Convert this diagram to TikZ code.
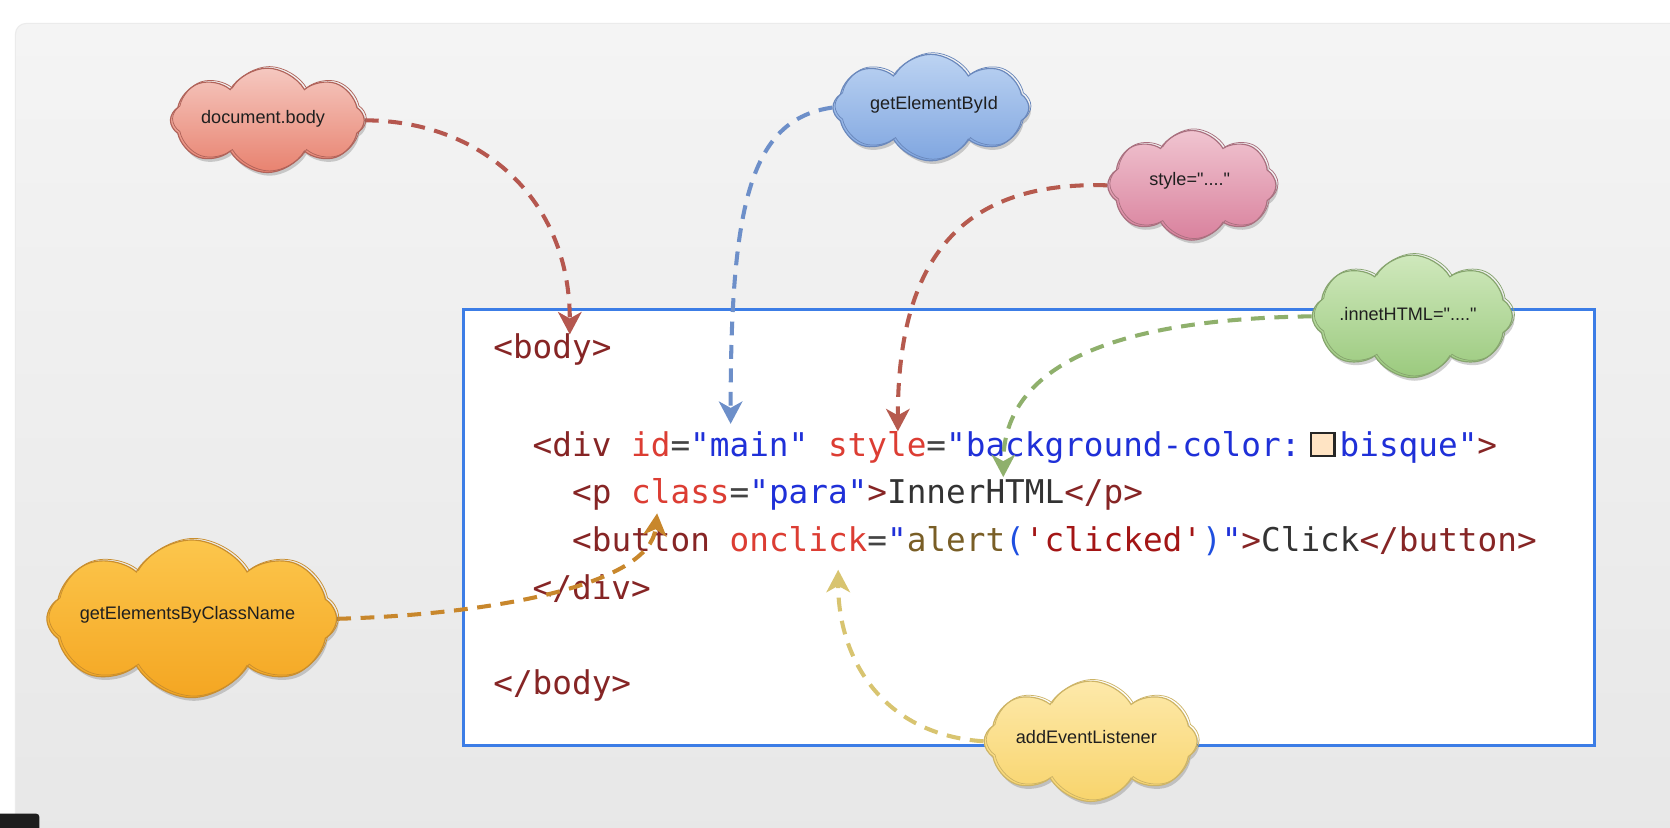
\documentclass[tikz,border=0pt]{standalone}
\usepackage{fontspec}
\setmainfont{Liberation Sans}[Ligatures=TeXOff]
\setmonofont{DejaVu Sans Mono}
\usetikzlibrary{shapes.symbols,shadows,arrows.meta}
\definecolor{bgTop}{HTML}{F4F4F4}
\definecolor{bgBot}{HTML}{E7E7E7}
\definecolor{darkC}{HTML}{1E1E1E}
\definecolor{boxC}{HTML}{3C7DE6}
\definecolor{tagC}{HTML}{862525}
\definecolor{attrC}{HTML}{DC3D33}
\definecolor{strC}{HTML}{1F30D8}
\definecolor{eqC}{HTML}{444444}
\definecolor{txtC}{HTML}{333333}
\definecolor{fnC}{HTML}{795E26}
\definecolor{parC}{HTML}{1F4FE0}
\definecolor{sqC}{HTML}{A31515}
\definecolor{bisqueC}{HTML}{FFE4C4}
\definecolor{arBody}{HTML}{B5574F}
\definecolor{arBlue}{HTML}{6D8FC9}
\definecolor{arStyle}{HTML}{B65A4E}
\definecolor{arGreen}{HTML}{8FB06C}
\definecolor{arOrange}{HTML}{C8872C}
\definecolor{arKhaki}{HTML}{D8C470}
% cloud colours
\definecolor{rTop}{HTML}{F5C8C0}\definecolor{rBot}{HTML}{E8826F}\definecolor{rLine}{HTML}{B0635A}
\definecolor{bTop}{HTML}{BCD3F2}\definecolor{bBot}{HTML}{80A6E0}\definecolor{bLine}{HTML}{6A88BC}
\definecolor{pTop}{HTML}{F0C4D0}\definecolor{pBot}{HTML}{D9819D}\definecolor{pLine}{HTML}{A9707F}
\definecolor{gTop}{HTML}{CFE8BC}\definecolor{gBot}{HTML}{9BCA7E}\definecolor{gLine}{HTML}{86A46E}
\definecolor{oTop}{HTML}{FCC64C}\definecolor{oBot}{HTML}{F4A622}\definecolor{oLine}{HTML}{C98E2E}
\definecolor{yTop}{HTML}{FDE9AA}\definecolor{yBot}{HTML}{F8D46C}\definecolor{yLine}{HTML}{CDB466}
\newcommand\ctag[1]{\textcolor{tagC}{#1}}
\newcommand\cattr[1]{\textcolor{attrC}{#1}}
\newcommand\cstr[1]{\textcolor{strC}{#1}}
\newcommand\ceq[1]{\textcolor{eqC}{#1}}
\newcommand\ctxt[1]{\textcolor{txtC}{#1}}
\newcommand\cfn[1]{\textcolor{fnC}{#1}}
\newcommand\cpar[1]{\textcolor{parC}{#1}}
\newcommand\csq[1]{\textcolor{sqC}{#1}}
\newcommand\swatch{\hspace*{9pt}\raisebox{2pt}{\fboxsep=0pt\fboxrule=2pt\fcolorbox{black!85}{bisqueC}{\vrule width 0pt height 19pt\hspace*{20pt}}}\hspace*{3.8pt}}
\pgfdeclarelayer{bgl}
\pgfdeclarelayer{arl}
\pgfsetlayers{bgl,arl,main}
\tikzset{
  codeline/.style={anchor=base west, inner sep=0pt, font=\ttfamily\fontsize{30.7}{36}\selectfont},
  codebox/.style={draw=boxC, line width=2.8pt, fill=white, inner sep=0pt},
  cloudbase/.style={cloud, cloud puffs=8, cloud puff arc=120, cloud ignores aspect, inner sep=0pt, line width=1.1pt,
    drop shadow={shadow xshift=2pt, shadow yshift=-3pt, opacity=0.3, fill=black!60}},
  cloudcol/.style n args={3}{top color=#1, bottom color=#2, draw=#3,
    postaction={draw=#3, line width=0.7pt, transform canvas={xshift=2pt, yshift=1.5pt}}},
  cloudtxt/.style={inner sep=0pt, font=\fontsize{17}{20}\selectfont, text=black!88},
  darr/.style={line width=3.8pt, dash pattern=on 13pt off 9pt, -{Stealth[length=21pt,width=22pt,inset=6pt]}},
}
\begin{document}
\begin{tikzpicture}[x=1pt,y=-1pt]
\useasboundingbox (0,0) rectangle (1568,776.5);
\begin{pgfonlayer}{bgl}
  \fill[white] (0,0) rectangle (1568,776.5);
  \shade[top color=bgTop, bottom color=bgBot, rounded corners=10pt] (14.5,22) rectangle (1600,800);
  \draw[black!8, line width=1pt, rounded corners=10pt] (14.5,800) -- (14.5,22) -- (1600,22);
  \fill[darkC, rounded corners=3pt] (-6,764) rectangle (37,790);
  \node[codebox, minimum width=1062pt, minimum height=409pt] (box) at (966,495.5) {};
  \node[codeline] (l1) at (463,336.5) {\ctag{<body>}};
  \node[codeline] (l2) at (500,428.8) {\ctag{<div} \cattr{id}\ceq{=}\cstr{"main"} \cattr{style}\ceq{=}\cstr{"background-color:}\swatch\cstr{bisque"}\ctag{>}};
  \node[codeline] (l3) at (537,472.4) {\ctag{<p} \cattr{class}\ceq{=}\cstr{"para"}\ctag{>}\ctxt{InnerHTML}\ctag{</p>}};
  \node[codeline] (l4) at (537,518) {\ctag{<button} \cattr{onclick}\ceq{=}\cstr{"}\cfn{alert}\cpar{(}\csq{'clicked'}\cpar{)}\cstr{"}\ctag{>}\ctxt{Click}\ctag{</button>}};
  \node[codeline] (l5) at (500,563.3) {\ctag{</div>}};
  \node[codeline] (l6) at (463,652.5) {\ctag{</body>}};
\end{pgfonlayer}

% clouds
\node[cloudbase, cloudcol={rTop}{rBot}{rLine}, minimum width=182pt, minimum height=98pt] (c1) at (251,113) {};
\node[cloudtxt] (t1) at (247,112) {document.body};
\node[cloudbase, cloudcol={bTop}{bBot}{bLine}, minimum width=184pt, minimum height=100pt] (c2) at (874,101) {};
\node[cloudtxt] (t2) at (877,98) {getElementById};
\node[cloudbase, cloudcol={pTop}{pBot}{pLine}, minimum width=158pt, minimum height=103pt] (c3) at (1119,174) {};
\node[cloudtxt] (t3) at (1117,170) {style="...."};
\node[cloudbase, cloudcol={gTop}{gBot}{gLine}, minimum width=188pt, minimum height=115pt] (c4) at (1326,297) {};
\node[cloudtxt] (t4) at (1322,295) {.innetHTML="...."};
\node[cloudbase, cloudcol={oTop}{oBot}{oLine}, minimum width=272pt, minimum height=148pt] (c5) at (180,581) {};
\node[cloudtxt] (t5) at (176,577) {getElementsByClassName};
\node[cloudbase, cloudcol={yTop}{yBot}{yLine}, minimum width=200pt, minimum height=113pt] (c6) at (1024,696) {};
\node[cloudtxt] (t6) at (1020,692) {addEventListener};

% arrow targets
\coordinate (p1) at (535,314);
\coordinate (p2) at (686,398);
\coordinate (p3) at (843,405);
\coordinate (p4) at (942,448);
\coordinate (p5) at (617,482);
\coordinate (p6) at (787,535);

\begin{pgfonlayer}{arl}
  \draw[darr, draw=arBody] (c1.east) .. controls (450,113) and (535,185) .. (p1);
  \draw[darr, draw=arBlue] (c2.west) .. controls (705,112) and (686,190) .. (p2);
  \draw[darr, draw=arStyle] (c3.west) .. controls (905,170) and (843,240) .. (p3);
  \draw[darr, draw=arGreen] (c4.west) .. controls (1030,300) and (942,350) .. (p4);
  \draw[darr, draw=arOrange] (c5.east) .. controls (460,577) and (610,550) .. (p5);
  \draw[darr, draw=arKhaki] (c6.west) .. controls (830,690) and (787,620) .. (p6);
\end{pgfonlayer}
\end{tikzpicture}
\end{document}
